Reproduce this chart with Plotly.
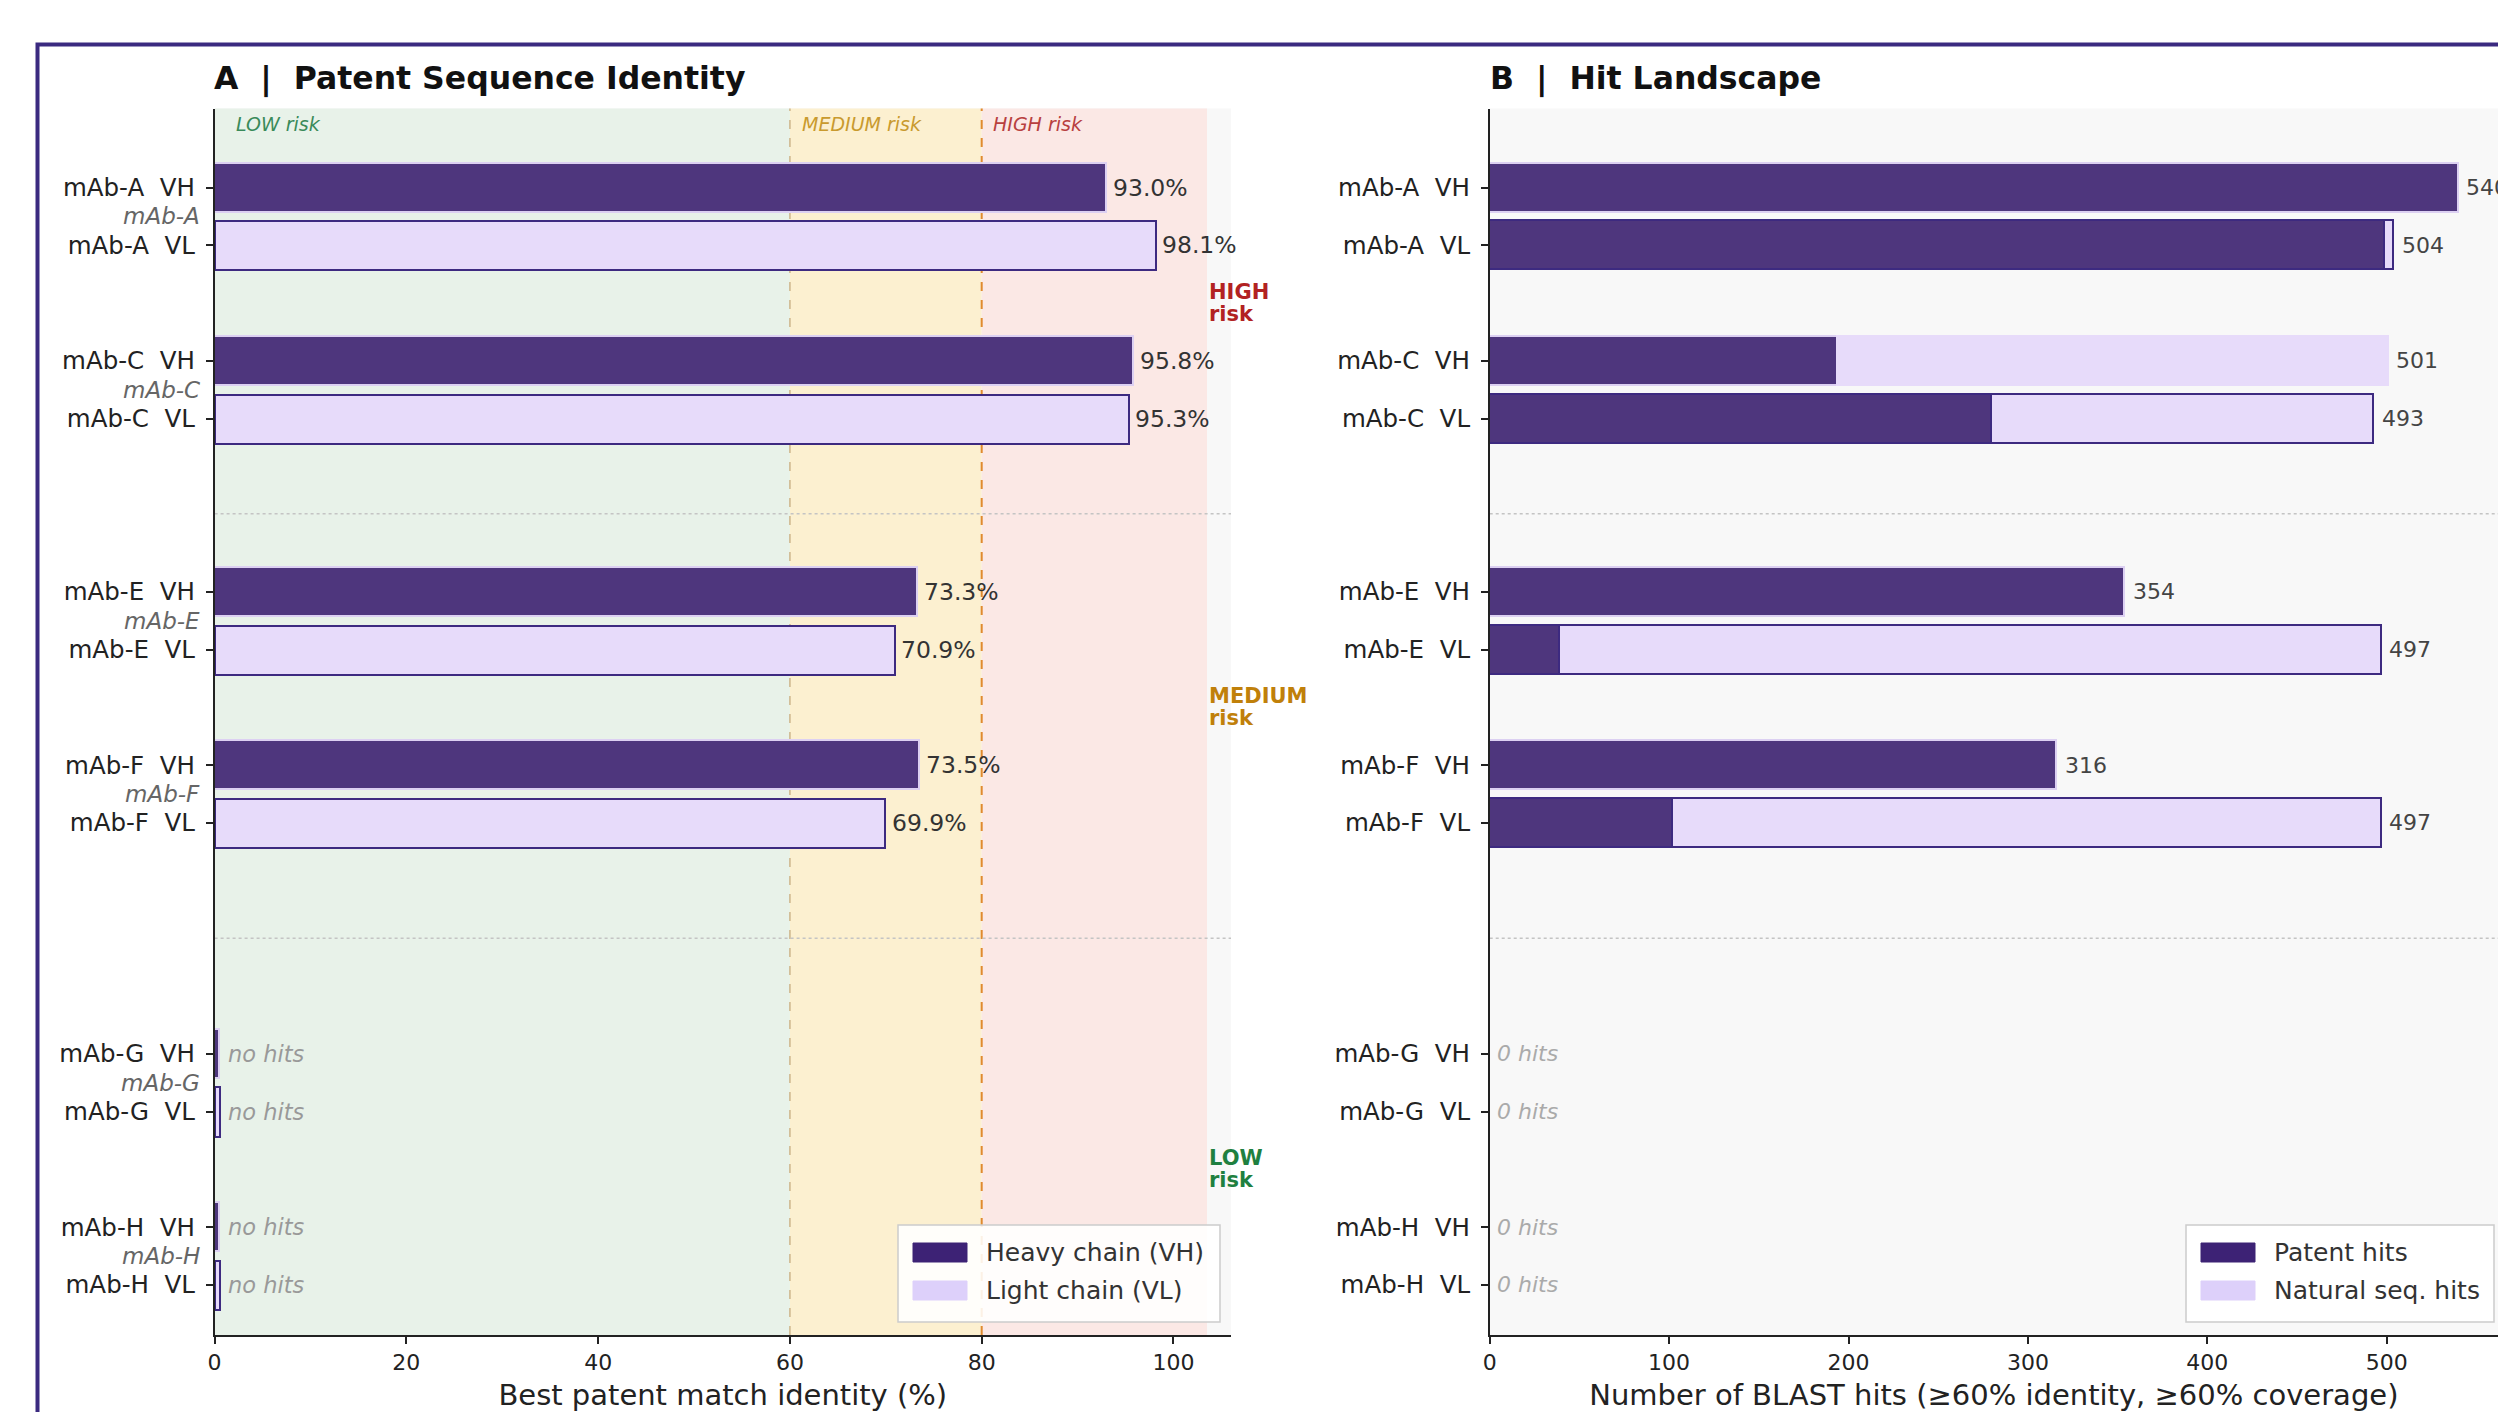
import plotly.graph_objects as go

# ---------------- data ----------------
antibodies = ["mAb-A", "mAb-C", "mAb-E", "mAb-F", "mAb-G", "mAb-H"]
risk_tier = ["HIGH", "HIGH", "MEDIUM", "MEDIUM", "LOW", "LOW"]
vh_identity = [93.0, 95.8, 73.3, 73.5, None, None]
vl_identity = [98.1, 95.3, 70.9, 69.9, None, None]
vh_patent_hits = [540, 194, 354, 316, 0, 0]
vh_natural_hits = [0, 307, 0, 0, 0, 0]
vl_patent_hits = [499, 280, 39, 102, 0, 0]
vl_natural_hits = [5, 213, 458, 395, 0, 0]
identity_ticks = [0, 20, 40, 60, 80, 100]
hits_ticks = [0, 100, 200, 300, 400, 500]
band_names = ["LOW", "MEDIUM", "HIGH"]
band_lo = [0, 60, 80]
band_hi = [60, 80, 103.5]

# ---------------- layout constants ----------------
W, H = 2498, 1412
FONT = "DejaVu Sans"
VH_ROW = [0, 3, 7, 10, 15, 18]          # vertical slot of each VH row (VL = +1)
SEPARATORS = [5.65, 13.0]
BAND_LABEL_X = [2.0, 61.0, 81.0]
BAR_W = 0.85
DARK = "#4e367d"
LIGHT = "#e7dbfa"
EDGE_DARK = "#3d2a80"
EDGE_LIGHT = "#dcd0f2"
BAND_FILL = {"LOW": "#e8f2e9", "MEDIUM": "#fcf0d0", "HIGH": "#fbe8e5"}
BAND_TXT = {"LOW": "#3a8a5a", "MEDIUM": "#c99a2e", "HIGH": "#b84040"}
SIDE_TXT = {"LOW": "#1f8040", "MEDIUM": "#c0800a", "HIGH": "#b22222"}


def px(x):
    return x / W


def py(y):
    return 1 - y / H


XA = [px(214.6), px(1231)]
XB = [px(1489.7), 1.0]
YD = [py(1335), py(108.5)]
Y_RANGE = [19.87, -1.37]
XA_RANGE = [0, 106]
XB_RANGE = [0, (W - 1489.7) / 1.794]

vl_row = [v + 1 for v in VH_ROW]
rows, labels, is_vh = [], [], []
for i, ab in enumerate(antibodies):
    rows += [VH_ROW[i], vl_row[i]]
    labels += [ab + "\u00a0 VH", ab + "\u00a0 VL"]
    is_vh += [True, False]

fig = go.Figure()

# ---- Panel A: identity bars ----
fig.add_trace(go.Bar(
    x=[v if v is not None else 0.5 for v in vh_identity], y=VH_ROW, orientation="h",
    width=BAR_W, marker=dict(color=DARK, line=dict(color=EDGE_LIGHT, width=1.5)),
    xaxis="x", yaxis="y", showlegend=False, hoverinfo="skip"))
fig.add_trace(go.Bar(
    x=[v if v is not None else 0.5 for v in vl_identity], y=vl_row, orientation="h",
    width=BAR_W, marker=dict(color=LIGHT, line=dict(color=EDGE_DARK, width=2)),
    xaxis="x", yaxis="y", showlegend=False, hoverinfo="skip"))

# ---- Panel B: stacked hit bars ----
patent, natural = [], []
for i in range(len(antibodies)):
    patent += [vh_patent_hits[i], vl_patent_hits[i]]
    natural += [vh_natural_hits[i], vl_natural_hits[i]]
edge_cols = [EDGE_LIGHT if v else EDGE_DARK for v in is_vh]
edge_cols_nat = [LIGHT if v else EDGE_DARK for v in is_vh]
fig.add_trace(go.Bar(
    x=[v if v else None for v in patent], y=rows, orientation="h", width=BAR_W,
    marker=dict(color=DARK, line=dict(color=edge_cols, width=1.5)),
    xaxis="x2", yaxis="y2", showlegend=False, hoverinfo="skip"))
fig.add_trace(go.Bar(
    x=[v if v else None for v in natural], y=rows, orientation="h", width=BAR_W,
    marker=dict(color=LIGHT, line=dict(color=edge_cols_nat, width=1.5)),
    xaxis="x2", yaxis="y2", showlegend=False, hoverinfo="skip"))

shapes, ann = [], []

# risk bands + threshold lines
for name, lo, hi, lx in zip(band_names, band_lo, band_hi, BAND_LABEL_X):
    shapes.append(dict(type="rect", xref="x", yref="y domain", x0=lo, x1=hi, y0=0, y1=1,
                       fillcolor=BAND_FILL[name], line=dict(width=0), layer="below"))
    ann.append(dict(xref="x", yref="y domain", x=lx, y=1, xanchor="left", yanchor="top",
                    yshift=-2, text=f"<i>{name} risk</i>", showarrow=False,
                    font=dict(family=FONT, size=19, color=BAND_TXT[name])))
shapes.append(dict(type="line", xref="x", yref="y domain", x0=band_lo[1], x1=band_lo[1], y0=0, y1=1,
                   line=dict(color="#cdb58a", width=1.5, dash="dash"), layer="below"))
shapes.append(dict(type="line", xref="x", yref="y domain", x0=band_lo[2], x1=band_lo[2], y0=0, y1=1,
                   line=dict(color="#e08a2e", width=2, dash="dash"), layer="below"))

# group separators
for s in SEPARATORS:
    for xr, yr in (("x domain", "y"), ("x2 domain", "y2")):
        shapes.append(dict(type="line", xref=xr, yref=yr, x0=0, x1=1, y0=s, y1=s,
                           line=dict(color="#c4c4c4", width=1.5, dash="dot"), layer="below"))

# value labels panel A
for vals, rws in ((vh_identity, VH_ROW), (vl_identity, vl_row)):
    for v, r in zip(vals, rws):
        if v is None:
            ann.append(dict(xref="x", yref="y", x=0.5, y=r, xanchor="left", yanchor="middle",
                            xshift=7, text="<i>no hits</i>", showarrow=False,
                            font=dict(family=FONT, size=22.5, color="#999999")))
        else:
            ann.append(dict(xref="x", yref="y", x=v, y=r, xanchor="left", yanchor="middle",
                            xshift=5, text=f"{v:.1f}%", showarrow=False,
                            font=dict(family=FONT, size=23.5, color="#333333")))

# group labels and side risk labels
for i, ab in enumerate(antibodies):
    ann.append(dict(xref="x", yref="y", x=0, y=VH_ROW[i] + 0.5, xanchor="right", yanchor="middle",
                    xshift=-13, text=f"<i>{ab}</i>", showarrow=False,
                    font=dict(family=FONT, size=23, color="#666666")))
seen = []
for i, t in enumerate(risk_tier):
    if t in seen:
        continue
    seen.append(t)
    members = [j for j, tt in enumerate(risk_tier) if tt == t]
    mid = (VH_ROW[members[0]] + vl_row[members[-1]]) / 2
    for line_txt, shift in ((t, 11), ("risk", -11)):
        ann.append(dict(xref="x", yref="y", x=103.5, y=mid, xanchor="left", yanchor="middle",
                        yshift=shift, text=f"<b>{line_txt}</b>", showarrow=False,
                        font=dict(family=FONT, size=21, color=SIDE_TXT[t])))

# totals panel B
for p, n, r in zip(patent, natural, rows):
    tot = p + n
    if tot == 0:
        ann.append(dict(xref="x2", yref="y2", x=0, y=r, xanchor="left", yanchor="middle",
                        xshift=5, text="<i>0 hits</i>", showarrow=False,
                        font=dict(family=FONT, size=22, color="#aaaaaa")))
    else:
        ann.append(dict(xref="x2", yref="y2", x=tot, y=r, xanchor="left", yanchor="middle",
                        xshift=6, text=f"{tot}", showarrow=False,
                        font=dict(family=FONT, size=22, color="#444444")))

# panel titles
ann.append(dict(xref="paper", yref="paper", x=px(212), y=py(79), xanchor="left", yanchor="middle",
                text="<b>A\u00a0 |\u00a0 Patent Sequence Identity</b>", showarrow=False,
                font=dict(family=FONT, size=31.5, color="#111111")))
ann.append(dict(xref="paper", yref="paper", x=px(1488), y=py(79), xanchor="left", yanchor="middle",
                text="<b>B\u00a0 |\u00a0 Hit Landscape</b>", showarrow=False,
                font=dict(family=FONT, size=31.5, color="#111111")))

# legends (drawn manually to mimic wide patches)
def legend(x0, x1, items):
    shapes.append(dict(type="rect", xref="paper", yref="paper", x0=px(x0), x1=px(x1),
                       y0=py(1322), y1=py(1225), fillcolor="rgba(255,255,255,0.88)",
                       line=dict(color="#cccccc", width=1.5)))
    for k, (lab, col) in enumerate(items):
        yc = 1252.5 + 38 * k
        shapes.append(dict(type="rect", xref="paper", yref="paper", x0=px(x0 + 15), x1=px(x0 + 69),
                           y0=py(yc + 9.5), y1=py(yc - 9.5), fillcolor=col,
                           line=dict(color=col, width=1)))
        ann.append(dict(xref="paper", yref="paper", x=px(x0 + 86), y=py(yc), xanchor="left",
                        yanchor="middle", text=lab, showarrow=False,
                        font=dict(family=FONT, size=25, color="#333333")))

legend(898, 1220, [("Heavy chain (VH)", "#3d2275"), ("Light chain (VL)", "#ddd0fa")])
legend(2186, 2494, [("Patent hits", "#3d2275"), ("Natural seq. hits", "#ddd0fa")])

# outer border
shapes.append(dict(type="rect", xref="paper", yref="paper", x0=px(37.5), x1=1.05, y0=-0.05, y1=py(44.5),
                   line=dict(color="#3b2a80", width=4), fillcolor="rgba(0,0,0,0)"))

axis_common = dict(ticks="outside", ticklen=7, tickwidth=1.5, tickcolor="#222222", showline=True,
                   linecolor="#222222", linewidth=1.5, showgrid=False, zeroline=False,
                   automargin=False)

fig.update_layout(
    width=W, height=H, margin=dict(l=0, r=0, t=0, b=0),
    paper_bgcolor="white", plot_bgcolor="#f8f8f8", barmode="stack", bargap=0,
    font=dict(family=FONT, color="#222222"),
    shapes=shapes, annotations=ann,
    xaxis=dict(domain=XA, range=XA_RANGE, anchor="y", tickvals=identity_ticks,
               tickfont=dict(size=22, color="#222222"),
               title=dict(text="Best patent match identity (%)", font=dict(size=29, color="#222222"),
                          standoff=21), **axis_common),
    yaxis=dict(domain=YD, range=Y_RANGE, anchor="x", tickvals=rows, ticktext=labels,
               tickfont=dict(size=24.5, color="#222222"), ticklabelstandoff=6, **axis_common),
    xaxis2=dict(domain=XB, range=XB_RANGE, anchor="y2", tickvals=hits_ticks,
                tickfont=dict(size=22, color="#222222"),
                title=dict(text="Number of BLAST hits (\u226560% identity, \u226560% coverage)",
                           font=dict(size=29, color="#222222"), standoff=21), **axis_common),
    yaxis2=dict(domain=YD, range=Y_RANGE, anchor="x2", tickvals=rows, ticktext=labels,
                tickfont=dict(size=24.5, color="#222222"), ticklabelstandoff=6, **axis_common),
)

fig.write_html("out.html", config={"displayModeBar": False},
               post_script="document.body.style.margin='0';document.body.style.overflow='hidden';")
